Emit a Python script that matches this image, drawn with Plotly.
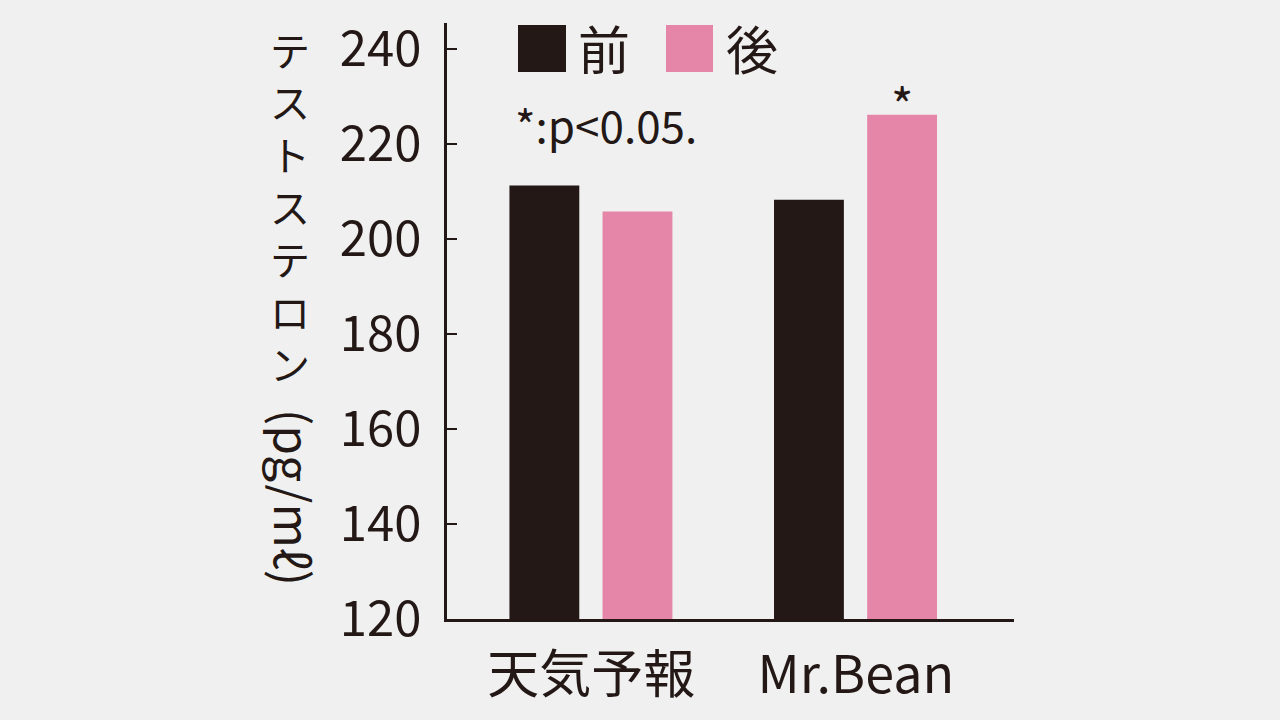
import plotly.graph_objects as go

categories = ["天気予報", "Mr.Bean"]
series_names = ["前", "後"]
before_vals = [211.3, 208.3]
after_vals = [205.8, 226.2]
sig_mark = "*"
y_ticks = [120, 140, 160, 180, 200, 220, 240]
y_title_kana = ["テ", "ス", "ト", "ス", "テ", "ロ", "ン"]
y_title_unit = "(pg/mℓ)"
note_text = "*:p<0.05."

INK = "#231815"
PINK = "#e585a8"
BG = "#f0f0f0"
FONT = "Noto Sans CJK JP"

W, H = 1280, 720
L, R, T, B = 447, 1014, 23, 619
PW, PH = R - L, B - T

BAR_W = 0.264
OFF_BEFORE = -0.309
OFF_AFTER = 0.043


def px(x):
    return (x - L) / PW


def py(y):
    return (B - y) / PH


fig = go.Figure()
fig.add_trace(go.Bar(
    x=categories, y=before_vals, name=series_names[0],
    marker=dict(color=INK, line=dict(width=0)),
    width=BAR_W, offset=OFF_BEFORE, base=0,
))
fig.add_trace(go.Bar(
    x=categories, y=after_vals, name=series_names[1],
    marker=dict(color=PINK, line=dict(width=0)),
    width=BAR_W, offset=OFF_AFTER, base=0,
))

annotations = []
# significance mark above the 後 bar of Mr.Bean
annotations.append(dict(
    text=sig_mark, xref="x", yref="y",
    x=1 + OFF_AFTER + BAR_W / 2, y=after_vals[1],
    xanchor="center", yanchor="middle", yshift=12, showarrow=False,
    font=dict(size=48, color=INK, family=FONT),
))
# vertical y-axis title (one character per line)
for i, ch in enumerate(y_title_kana):
    annotations.append(dict(
        text=ch, xref="paper", yref="paper",
        x=px(290), y=py(49 + i * 52.3),
        xanchor="center", yanchor="middle", showarrow=False,
        font=dict(size=40, color=INK, family=FONT),
    ))
annotations.append(dict(
    text=y_title_unit, xref="paper", yref="paper", x=px(295), y=py(497),
    xanchor="center", yanchor="middle", showarrow=False, textangle=90,
    font=dict(size=48, color=INK, family=FONT),
))
# note
annotations.append(dict(
    text=note_text, xref="paper", yref="paper", x=px(606), y=py(124),
    xanchor="center", yanchor="middle", showarrow=False,
    font=dict(size=44, color=INK, family=FONT),
))
# legend text
legend_text_x = [604, 752]
for name, lx in zip(series_names, legend_text_x):
    annotations.append(dict(
        text=name, xref="paper", yref="paper", x=px(lx), y=py(48),
        xanchor="center", yanchor="middle", showarrow=False,
        font=dict(size=52, color=INK, family=FONT),
    ))

shapes = []
legend_boxes = [(518, 566, INK), (666, 713, PINK)]
for x0, x1, c in legend_boxes:
    shapes.append(dict(
        type="rect", xref="paper", yref="paper",
        x0=px(x0), x1=px(x1), y0=py(72), y1=py(25),
        fillcolor=c, line=dict(width=0),
    ))

fig.update_layout(
    width=W, height=H,
    margin=dict(l=L, r=W - R, t=T, b=H - B, pad=0, autoexpand=False),
    paper_bgcolor=BG, plot_bgcolor=BG,
    barmode="overlay",
    showlegend=False,
    font=dict(family=FONT, color=INK),
    annotations=annotations,
    shapes=shapes,
    xaxis=dict(
        range=[-0.545, 1.598],
        showline=True, linecolor=INK, linewidth=2.5,
        showgrid=False, zeroline=False, ticks="",
        tickfont=dict(size=52, color=INK, family=FONT),
        ticklabelstandoff=9,
        automargin=False,
        fixedrange=True,
    ),
    yaxis=dict(
        range=[120, 245.5],
        tickvals=y_ticks,
        showline=True, linecolor=INK, linewidth=2.5,
        showgrid=False, zeroline=False,
        ticks="inside", ticklen=10, tickwidth=2, tickcolor=INK,
        tickfont=dict(size=49, color=INK, family=FONT),
        ticklabelstandoff=13,
        automargin=False,
        fixedrange=True,
    ),
)

fig.write_html(
    "out.html",
    config={"displayModeBar": False},
    post_script="document.body.style.margin='0';document.body.style.overflow='hidden';document.body.style.background='#f0f0f0';",
)
